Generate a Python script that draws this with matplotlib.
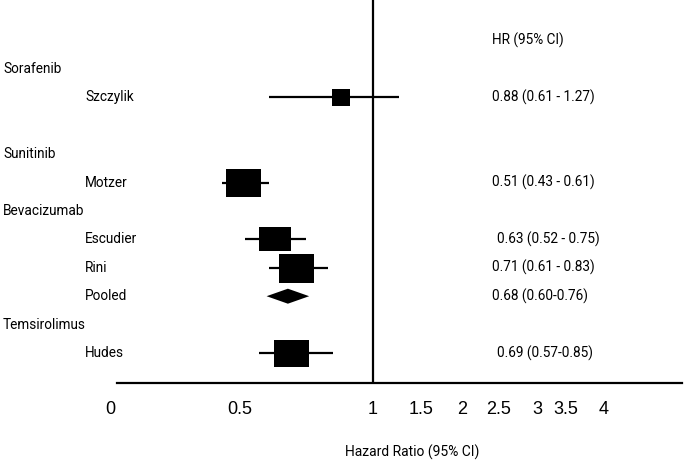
import numpy as np
import matplotlib
matplotlib.use('Agg')
import matplotlib.pyplot as plt
from matplotlib.path import Path
from matplotlib import transforms
from matplotlib.patches import Polygon

# ---------------- data ----------------
groups = ['Sorafenib', 'Sunitinib', 'Bevacizumab', 'Temsirolimus']
group_rows = [0, 3, 5, 9]
studies = ['Szczylik', 'Motzer', 'Escudier', 'Rini', 'Pooled', 'Hudes']
study_rows = [1, 4, 6, 7, 8, 10]
hr = [0.88, 0.51, 0.63, 0.71, 0.68, 0.69]
ci_low = [0.61, 0.43, 0.52, 0.61, 0.60, 0.57]
ci_high = [1.27, 0.61, 0.75, 0.83, 0.76, 0.85]
ci_sep = [' - ', ' - ', ' - ', ' - ', '-', '-']
is_pooled = [False, False, False, False, True, False]
tick_values = [0, 0.5, 1, 1.5, 2, 2.5, 3, 3.5, 4]
tick_labels = ['0', '0.5', '1', '1.5', '2', '2.5', '3', '3.5', '4']

# ---------------- style / layout ----------------
W, H = 685, 465
# piecewise axis scale (value -> pixel column), as drawn in the reference
scale_vals = [-1, 0, 0.5, 1, 1.5, 2, 2.5, 3, 3.5, 4, 8]
scale_px = [-148, 110.7, 240, 373, 421, 462, 499, 537, 566, 604, 908]
row0_px, row_step_px = 69, 28.4
box_w_px = [18, 35, 32, 35, 0, 35]
box_h_px = [17, 28, 24, 29, 0, 27]
diamond_h_px = 15
hr_text_px = [492, 492, 497, 492, 492, 497]
label_font = ['Roboto', 'DejaVu Sans']
tick_font = ['Liberation Sans', 'DejaVu Sans']
label_size = 9.8
lw = 1.6


def fwd(v):
    return np.interp(v, scale_vals, scale_px)


def inv(p):
    return np.interp(p, scale_px, scale_vals)


fig = plt.figure(figsize=(W / 100, H / 100), dpi=100)
ax = fig.add_axes([0, 0, 1, 1])
ax.set_xscale('function', functions=(fwd, inv))
ax.set_xlim(inv(0), inv(W))
y_top = -row0_px / row_step_px
y_bot = (H - row0_px) / row_step_px
ax.set_ylim(y_bot, y_top)
axis_row = (383 - row0_px) / row_step_px

for s in ['top', 'right', 'left']:
    ax.spines[s].set_visible(False)
ax.spines['bottom'].set_position(('data', axis_row))
ax.spines['bottom'].set_bounds(inv(117), inv(682))
ax.spines['bottom'].set_linewidth(lw)
ax.set_yticks([])
ax.set_xticks(tick_values)
ax.set_xticklabels(tick_labels, fontfamily=tick_font, fontsize=13)
ax.tick_params(axis='x', length=0, pad=13)

# reference line at HR = 1
ax.vlines(1, y_top, axis_row, colors='black', lw=lw)

# CI lines, boxes, diamond
for i in range(len(studies)):
    r = study_rows[i]
    if is_pooled[i]:
        half = diamond_h_px / 2 / row_step_px
        poly = Polygon([(ci_low[i], r), (hr[i], r - half), (ci_high[i], r),
                        (hr[i], r + half)], closed=True, color='black', lw=0)
        ax.add_patch(poly)
        continue
    ax.hlines(r, ci_low[i], ci_high[i], colors='black', lw=lw)
    w, h = box_w_px[i], box_h_px[i]
    verts = [(-w / 2, -h / 2), (w / 2, -h / 2), (w / 2, h / 2), (-w / 2, h / 2), (0, 0)]
    codes = [Path.MOVETO, Path.LINETO, Path.LINETO, Path.LINETO, Path.CLOSEPOLY]
    marker = Path(verts, codes)
    ax.plot([hr[i]], [r], marker=marker, markersize=max(w, h) * 0.72,
            color='black', linestyle='none', markeredgewidth=0)

# text
bt = transforms.blended_transform_factory(ax.transAxes, ax.transData)
for g, r in zip(groups, group_rows):
    ax.text(3 / W, r, g, transform=bt, ha='left', va='center',
            fontfamily=label_font, fontsize=label_size)
for i, (s, r) in enumerate(zip(studies, study_rows)):
    ax.text(85 / W, r, s, transform=bt, ha='left', va='center',
            fontfamily=label_font, fontsize=label_size)
    txt = f"{hr[i]:.2f} ({ci_low[i]:.2f}{ci_sep[i]}{ci_high[i]:.2f})"
    ax.text(hr_text_px[i] / W, r, txt, transform=bt, ha='left', va='center',
            fontfamily=label_font, fontsize=label_size)
ax.text(492 / W, -1, 'HR (95% CI)', transform=bt, ha='left', va='center',
        fontfamily=label_font, fontsize=label_size)
ax.text(412 / W, (452 - row0_px) / row_step_px, 'Hazard Ratio (95% CI)',
        transform=bt, ha='center', va='center', fontfamily=label_font, fontsize=10)

fig.savefig('out.png', dpi=100)
